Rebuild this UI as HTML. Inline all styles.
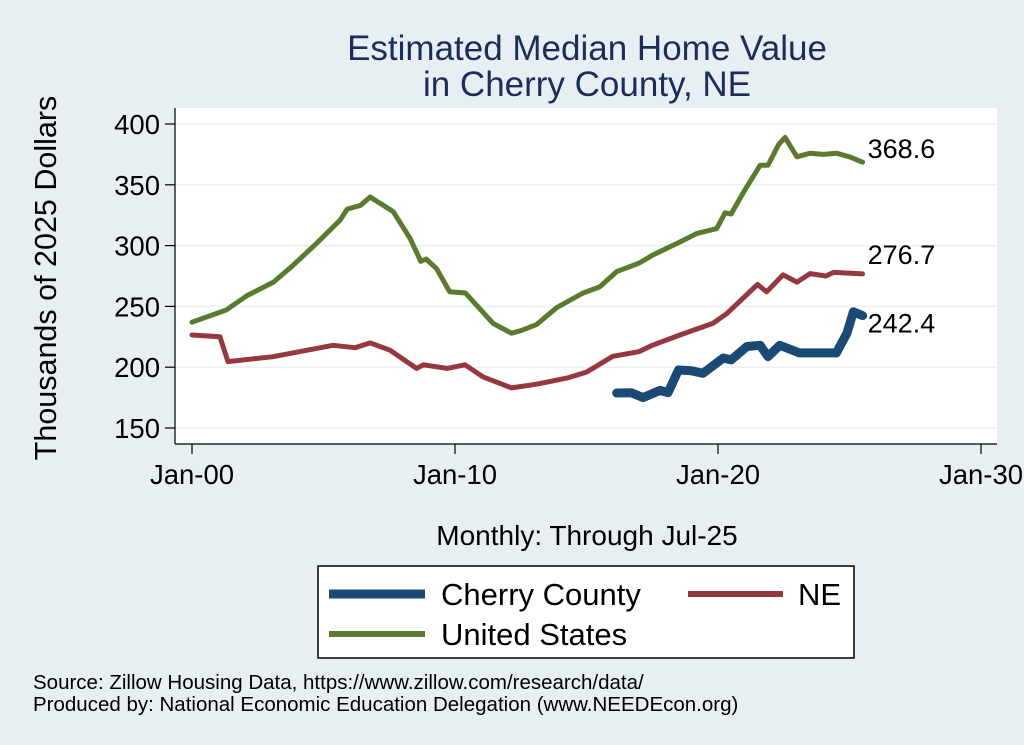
<!DOCTYPE html>
<html><head><meta charset="utf-8"><style>
body{margin:0;background:#e8eff3;}
svg{display:block;font-family:"Liberation Sans",Arial,sans-serif;}
</style></head><body>
<svg id="chart" width="1024" height="745" viewBox="0 0 1024 745">
<rect x="0" y="0" width="1024" height="745" fill="#e8eff3"/>
<text x="587" y="60" text-anchor="middle" font-size="35" fill="#1c2c5b">Estimated Median Home Value</text>
<text x="587" y="96" text-anchor="middle" font-size="35" fill="#1c2c5b">in Cherry County, NE</text>
<rect x="175" y="108" width="822" height="336" fill="#ffffff"/>
<g id="grid"></g>
<g id="axes"></g>
<g id="series"></g>
<text transform="translate(56,278) rotate(-90)" text-anchor="middle" font-size="30.5" fill="#000">Thousands of 2025 Dollars</text>
<text x="587" y="545" text-anchor="middle" font-size="28" fill="#000">Monthly: Through Jul-25</text>
<g>
<rect x="318" y="566" width="536" height="92" fill="#fff" stroke="#000" stroke-width="1.5"/>
<line x1="329" y1="594" x2="425" y2="594" stroke="#1a4a74" stroke-width="9"/>
<text x="441" y="605" font-size="31">Cherry County</text>
<line x1="688" y1="594" x2="783" y2="594" stroke="#953840" stroke-width="6"/>
<text x="798" y="605" font-size="31">NE</text>
<line x1="329" y1="634" x2="425" y2="634" stroke="#5a7a30" stroke-width="6"/>
<text x="441" y="645" font-size="31">United States</text>
</g>
<text x="33" y="689" font-size="20.5">Source: Zillow Housing Data, https://www.zillow.com/research/data/</text>
<text x="33" y="711" font-size="20.5">Produced by: National Economic Education Delegation (www.NEEDEcon.org)</text>
</svg>
<script>
const yTicks=[150,200,250,300,350,400];
const xTickYears=[2000,2010,2020,2030];
const xTickLabels=["Jan-00","Jan-10","Jan-20","Jan-30"];
const usYears=[2000,2001.3,2002.1,2003.1,2003.85,2004.74,2005.63,2005.9,2006.4,2006.77,2007.65,2008.29,2008.7,2008.9,2009.3,2009.8,2010.4,2011.45,2012.15,2012.5,2013.1,2013.87,2014.87,2015.5,2016.15,2017.0,2017.5,2018.55,2019.2,2019.95,2020.1,2020.27,2020.5,2021.0,2021.6,2021.9,2022.3,2022.55,2023.0,2023.5,2024.0,2024.5,2025.0,2025.5];
const usValues=[237,247,259,270,284,302,321,330,333,340,328,306,287,289,281,262,261,236,228,230,235,249,261,266,278.6,285.6,292,303,310,314,320,327,326,345,366,366,383,389,373,376,375,376,373,368.6];
const neYears=[2000,2001.06,2001.37,2003.08,2005.36,2006.2,2006.77,2007.53,2008.54,2008.8,2009.7,2010.38,2011.07,2012.15,2013.1,2014.25,2015.0,2016.0,2017.0,2017.5,2018.55,2019.8,2020.33,2021.5,2021.85,2022.47,2023.0,2023.5,2024.1,2024.4,2025.5];
const neValues=[226.5,225,204.6,208.6,218,216,220,214,199,202,199,202,192,183,186,191,196,209,212.8,218,226.5,236,244,268,262,276,270,277,275,278,276.7];
const ccYears=[2016.15,2016.7,2017.15,2017.8,2018.1,2018.5,2019.0,2019.43,2020.2,2020.5,2021.1,2021.6,2021.9,2022.35,2023.1,2024.5,2024.9,2025.15,2025.5];
const ccValues=[178.8,179,175,181,179,197.7,197,195,207.6,206,217,218,208.7,218,211.8,211.8,228,245.6,242.4];
const endLabels=["368.6","276.7","242.4"];
const NS="http://www.w3.org/2000/svg";
function xS(yr){return 192+(yr-2000)*26.3;}
function yS(v){return 124+(400-v)*1.216;}
function mk(tag,attrs,parent){const e=document.createElementNS(NS,tag);for(const k in attrs)e.setAttribute(k,attrs[k]);parent.appendChild(e);return e;}
const grid=document.getElementById('grid'),axes=document.getElementById('axes'),series=document.getElementById('series');
yTicks.forEach(v=>{
  const g=mk('line',{x1:175,x2:997,y1:yS(v),y2:yS(v),stroke:'#eaf0f4','stroke-width':1.5},grid);
  
  
  const t=mk('line',{x1:165,x2:175,y1:yS(v),y2:yS(v),stroke:'#000','stroke-width':1.2},axes);
  
  
  const l=mk('text',{x:160,y:yS(v)+10,'text-anchor':'end','font-size':27.5},axes);
  l.textContent=v;
  
  
});
const ya=mk('line',{x1:175,x2:175,y1:108,y2:444,stroke:'#000','stroke-width':1.2},axes);


const xa=mk('line',{x1:175,x2:997,y1:444,y2:444,stroke:'#000','stroke-width':1.2},axes);


xTickYears.forEach((yr,i)=>{
  const t=mk('line',{x1:xS(yr),x2:xS(yr),y1:444,y2:454,stroke:'#000','stroke-width':1.2},axes);
  
  
  const l=mk('text',{x:xS(yr),y:484,'text-anchor':'middle','font-size':27.5},axes);
  l.textContent=xTickLabels[i];
  
  
});
function line(xs,vs,color,w,name){
  const d=xs.map((x,i)=>(i?'L':'M')+xS(x).toFixed(1)+','+yS(vs[i]).toFixed(1)).join(' ');
  const p=mk('path',{d:d,fill:'none',stroke:color,'stroke-width':w,'stroke-linejoin':'round','stroke-linecap':'round'},series);
  
  
}
line(usYears,usValues,'#5a7a30',5,'line-united-states');
line(neYears,neValues,'#953840',5,'line-ne');
line(ccYears,ccValues,'#1a4a74',9,'line-cherry-county');
const ends=[[usYears,usValues],[neYears,neValues],[ccYears,ccValues]];
const offs=[-4,-10,17];
ends.forEach((s,i)=>{
  const n=s[0].length-1;
  const t=mk('text',{x:xS(s[0][n])+5,y:yS(s[1][n])+offs[i],'font-size':27},series);
  t.textContent=endLabels[i];
  
  
});
</script>
</body></html>
